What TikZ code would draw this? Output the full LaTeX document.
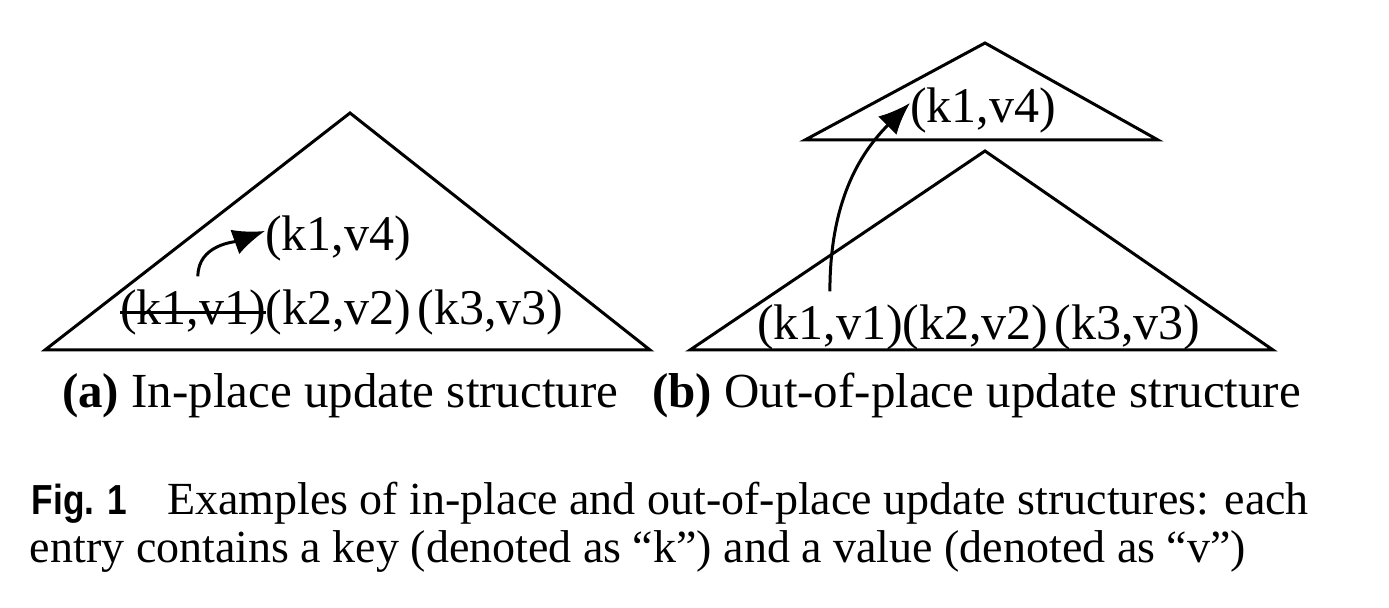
\documentclass[tikz,border=0pt]{standalone}
\usepackage{fontspec}
\setmainfont{Liberation Serif}
\newfontfamily\figfont{Liberation Sans}
\usetikzlibrary{arrows.meta}
\begin{document}
\begin{tikzpicture}[x=0.5pt,y=-0.5pt,
  tree/.style={draw=black,line width=1.5pt,line join=miter},
  entry/.style={inner sep=0pt,outer sep=0pt,anchor=base west,font=\fontsize{25}{29}\selectfont},
  sub/.style={inner sep=0pt,outer sep=0pt,anchor=base west,font=\fontsize{24.5}{28}\selectfont},
  captext/.style={inner sep=0pt,outer sep=0pt,anchor=base west,font=\fontsize{23}{27}\selectfont},
  figlabel/.style={inner sep=0pt,outer sep=0pt,anchor=base west,font=\fontsize{21}{25}\selectfont\figfont\bfseries},
  upd/.style={draw=black,line width=1.5pt,-{Latex[length=16pt,width=13pt]}}]
\useasboundingbox (0,0) rectangle (1389,608);
% (a) in-place
\draw[tree] (45,350) -- (350,113) -- (650,350) -- cycle;
\node[entry] (a1) at (120,325) {(k1,v1)};
\node[entry] (a2) at (a1.base east) {(k2,v2)};
\node[entry,xshift=3pt] (a3) at (a2.base east) {(k3,v3)};
\node[entry] (a4) at (265,251) {(k1,v4)};
\draw[line width=1.5pt] ([yshift=6pt]a1.base west) -- ([yshift=6pt]a1.base east);
\draw[upd] ([xshift=2.5pt,yshift=7pt]a1.north) to[out=90,in=200] ([yshift=4pt]a4.west);
% (b) out-of-place
\draw[tree] (690,350) -- (985,151) -- (1273,350) -- cycle;
\draw[tree] (805,140) -- (985,43) -- (1158,140) -- cycle;
\node[entry] (b1) at (757,340) {(k1,v1)};
\node[entry] (b2) at (b1.base east) {(k2,v2)};
\node[entry,xshift=3pt] (b3) at (b2.base east) {(k3,v3)};
\node[entry] (b4) at (910,123) {(k1,v4)};
\draw[upd] ([yshift=7pt]b1.north) to[out=90,in=225] ([yshift=4pt]b4.west);
% sub-captions
\node[sub] (sa) at (62,408) {\textbf{(a)} In-place update structure};
\node[sub] (sb) at (652,408) {\textbf{(b)} Out-of-place update structure};
% figure caption
\node[figlabel] (fig) at (32,515) {\scalebox{0.84}[1]{Fig. 1}};
\node[captext] (c1) at (167,515) {Examples of in-place and out-of-place update structures: each};
\node[captext] (c2) at (30,563) {entry contains a key (denoted as “k”) and a value (denoted as “v”)};
\end{tikzpicture}
\end{document}
